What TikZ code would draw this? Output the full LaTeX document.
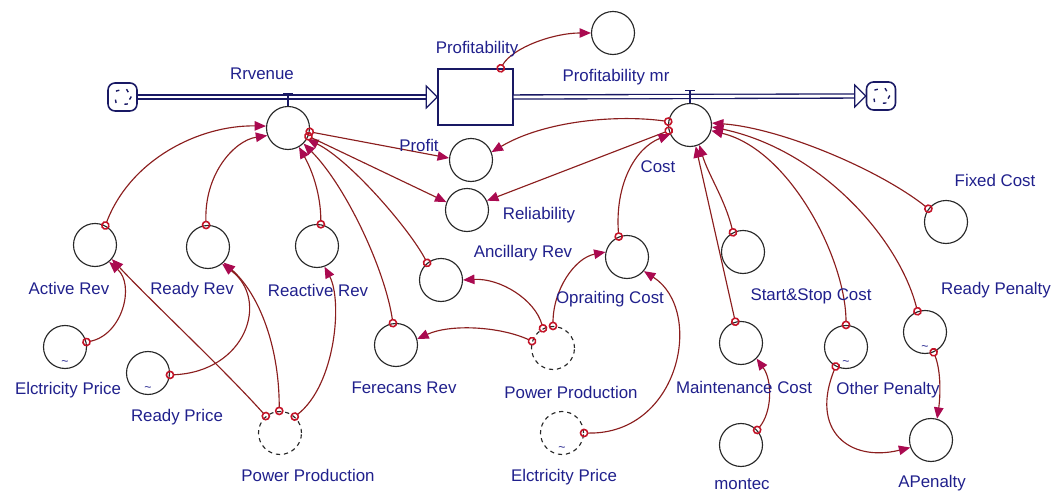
\documentclass[tikz,border=0pt]{standalone}
\usepackage{fontspec}
\setmainfont{Liberation Sans}
\usetikzlibrary{arrows.meta}
\definecolor{lblcol}{RGB}{32,32,140}
\definecolor{pipecol}{RGB}{25,25,100}
\definecolor{linecol}{RGB}{139,30,30}
\definecolor{headcol}{RGB}{170,10,80}
\definecolor{startcol}{RGB}{195,20,40}
\definecolor{circcol}{RGB}{40,40,40}
\newcommand\lblfont{\fontsize{9.6}{11}\selectfont}
\begin{document}
\begin{tikzpicture}[x=0.02cm,y=-0.02cm,
  var/.style={circle, draw=circcol, line width=0.65pt, minimum size=0.86cm, inner sep=0pt},
  ghost/.style={var, dash pattern=on 2.4pt off 2.2pt},
  stockbox/.style={rectangle, draw=pipecol, line width=0.8pt, minimum width=1.5cm, minimum height=1.12cm, inner sep=0pt},
  srcsink/.style={rectangle, rounded corners=4pt, draw=pipecol, line width=0.9pt, minimum width=0.58cm, minimum height=0.56cm, inner sep=0pt},
  pipe/.style={draw=pipecol, line width=0.75pt, double=white, double distance=1.6pt},
  pipehead/.style={draw=pipecol, line width=0.7pt, fill=white, line join=miter},
  valve/.style={draw=pipecol, line width=0.8pt},
  lbl/.style={text=lblcol, font=\lblfont, inner sep=0pt},
  tilde/.style={text=lblcol, font=\fontsize{7}{7}\selectfont, inner sep=0pt},
  conn/.style={draw=linecol, line width=0.65pt, shorten <=-2.5pt,
    arrows={Circle[open,length=5pt,color=startcol,line width=0.9pt]-Triangle[length=6.5pt,width=5.4pt,color=headcol]}},
]
\useasboundingbox (0,0) rectangle (1058,492);

% ---- variables ----
\node[var] (rev) at (288,128) {};
\node[stockbox] (stock) at (475.5,97) {};
\node[var] (pmr) at (613,33) {};
\node[var] (cost) at (690,125) {};
\node[var] (profit) at (471,160) {};
\node[var] (reliab) at (467,210) {};
\node[var] (actrev) at (95,245) {};
\node[var] (readyrev) at (208,247) {};
\node[var] (reactrev) at (317,246) {};
\node[var] (ancrev) at (441,280) {};
\node[var] (ferrev) at (396,345) {};
\node[var] (elecL) at (65,347) {};
\node[var] (readyprice) at (148,373) {};
\node[ghost] (ppL) at (280,433) {};
\node[ghost] (ppM) at (553,348) {};
\node[ghost] (elecM) at (562,433) {};
\node[var] (opcost) at (627,257) {};
\node[var] (ssc) at (743,252) {};
\node[var] (maint) at (741,343) {};
\node[var] (montec) at (741,445) {};
\node[var] (otherpen) at (846,347) {};
\node[var] (readypen) at (925,332) {};
\node[var] (apen) at (931,440) {};
\node[var] (fixed) at (946,222) {};
\node[srcsink] (cloudL) at (122.5,97) {};
\node[srcsink] (cloudR) at (881,96) {};

% cloud marks
\foreach \n in {cloudL,cloudR}{
  \foreach \a in {40,115,200,285,340}{
    \draw[pipecol, line width=0.8pt] ([shift={(\a:0.15cm)}]\n.center) -- ++(\a+80:0.07cm);
  }
}

% tildes
\node[tilde] (t1) at ([yshift=0.11cm]elecL.south) {\textasciitilde};
\node[tilde] (t2) at ([yshift=0.11cm]readyprice.south) {\textasciitilde};
\node[tilde] (t3) at ([yshift=0.11cm]elecM.south) {\textasciitilde};
\node[tilde] (t4) at ([yshift=0.11cm]otherpen.south) {\textasciitilde};
\node[tilde] (t5) at ([yshift=0.11cm]readypen.south) {\textasciitilde};

% ---- pipes ----
\draw[pipe] (cloudL.east) -- ([xshift=-0.22cm]stock.west);
\draw[pipehead] ([xshift=-0.22cm,yshift=0.22cm]stock.west) -- (stock.west) -- ([xshift=-0.22cm,yshift=-0.22cm]stock.west) -- cycle;
\draw[pipe] (stock.east) -- ([xshift=-0.22cm]cloudR.west);
\draw[pipehead] ([xshift=-0.22cm,yshift=0.22cm]cloudR.west) -- (cloudR.west) -- ([xshift=-0.22cm,yshift=-0.22cm]cloudR.west) -- cycle;
% valves
\draw[valve] (rev.north) -- ([yshift=0.25cm]rev.north);
\draw[valve] ([xshift=-0.1cm,yshift=0.25cm]rev.north) -- ([xshift=0.1cm,yshift=0.25cm]rev.north);
\draw[valve] (cost.north) -- ([yshift=0.25cm]cost.north);
\draw[valve] ([xshift=-0.1cm,yshift=0.25cm]cost.north) -- ([xshift=0.1cm,yshift=0.25cm]cost.north);

% ---- connectors ----
\draw[conn] (actrev.62) .. controls +(25,-66) and +(-67,-1) .. (rev.175);
\draw[conn] (readyrev.95) .. controls +(-2,-51) and +(-33,5) .. (rev.200);
\draw[conn] (reactrev.80) .. controls +(0,-30) and +(13,23) .. (rev.-60);
\draw[conn] (ferrev.98) .. controls +(-8,-54) and +(42,42) .. (rev.-45);
\draw[conn] (ancrev.129) .. controls +(-17,-33) and +(43,21) .. (rev.-30);
\draw[conn] (rev.-10) -- (profit.175);
\draw[conn] (rev.-22) -- (reliab.159);
\draw[conn] (cost.171) .. controls +(-49,-7) and +(54,-32) .. (profit.21);
\draw[conn] (cost.195) -- (reliab.25);
\draw[conn] (opcost.112) .. controls +(-4,-52) and +(-35,14) .. (cost.205);
\draw[conn] (ssc.117) .. controls +(-8,-33) and +(9,30) .. (cost.-65);
\draw[conn] (maint.105) -- (cost.-75);
\draw[conn] (otherpen.90) .. controls +(0,-65) and +(79,19) .. (cost.-15);
\draw[conn] (readypen.110) .. controls +(-18,-72) and +(109,23) .. (cost.-5);
\draw[conn] (fixed.143) .. controls +(-49,-39) and +(69,5) .. (cost.5);
\draw[conn] (ppM.162) .. controls +(-33,-15) and +(33,-15) .. (ferrev.16);
\draw[conn] (ppM.117) .. controls +(-8,-29) and +(37,-2) .. (ancrev.0);
\draw[conn] (ppM.90) .. controls +(0,-36) and +(-31,6) .. (opcost.167);
\draw[conn] (elecM.0) .. controls +(96,2) and +(61,39) .. (opcost.-40);
\draw[conn] (montec.43) .. controls +(15,-18) and +(16,22) .. (maint.-45);
\draw[conn] (otherpen.242) .. controls +(-26,64) and +(-61,15) .. (apen.-160);
\draw[conn] (readypen.-67) .. controls +(8,20) and +(3,-20) .. (apen.74);
\draw[conn] (elecL.13) .. controls +(36,-7) and +(26,23) .. (actrev.-50);
\draw[conn] (ppL.130) .. controls +(-41,-46) and +(38,41) .. (actrev.-40);
\draw[conn] (readyprice.-5) .. controls +(76,-3) and +(48,36) .. (readyrev.-50);
\draw[conn] (ppL.92) .. controls +(0,-71) and +(32,28) .. (readyrev.-45);
\draw[conn] (ppL.48) .. controls +(41,-32) and +(18,34) .. (reactrev.-70);
\draw[conn] ([xshift=-0.26cm]stock.north east) .. controls +(12,-21) and +(-37,0) .. (pmr.180);

% ---- labels ----
\node[lbl] (lrev) at (262,74) {Rrvenue};
\node[lbl] (lstock) at (477,49) {Profitability};
\node[lbl] (lpmr) at (616,77) {Profitability mr};
\node[lbl] (lprofit) at (419,145) {Profit};
\node[lbl] (lreliab) at (539,215) {Reliability};
\node[lbl] (lcost) at (658,167) {Cost};
\node[lbl] (lfixed) at (995,180) {Fixed Cost};
\node[lbl] (lactrev) at (69,288) {Active Rev};
\node[lbl] (lreadyrev) at (192,290) {Ready Rev};
\node[lbl] (lreactrev) at (318,290) {Reactive Rev};
\node[lbl] (lancrev) at (523,253) {Ancillary Rev};
\node[lbl] (lopcost) at (610,299) {Opraiting Cost};
\node[lbl] (lssc) at (811,296) {Start\&Stop Cost};
\node[lbl] (lreadypen) at (996,290) {Ready Penalty};
\node[lbl] (lelecL) at (68,390) {Elctricity Price};
\node[lbl] (lreadyprice) at (177,417) {Ready Price};
\node[lbl] (lppL) at (308,475) {Power Production};
\node[lbl] (lferrev) at (404,388) {Ferecans Rev};
\node[lbl] (lppM) at (571,392) {Power Production};
\node[lbl] (lmaint) at (744,387) {Maintenance Cost};
\node[lbl] (lotherpen) at (888,390) {Other Penalty};
\node[lbl] (lelecM) at (564,477) {Elctricity Price};
\node[lbl] (lmontec) at (742,484) {montec};
\node[lbl] (lapen) at (932,483) {APenalty};
\end{tikzpicture}
\end{document}
